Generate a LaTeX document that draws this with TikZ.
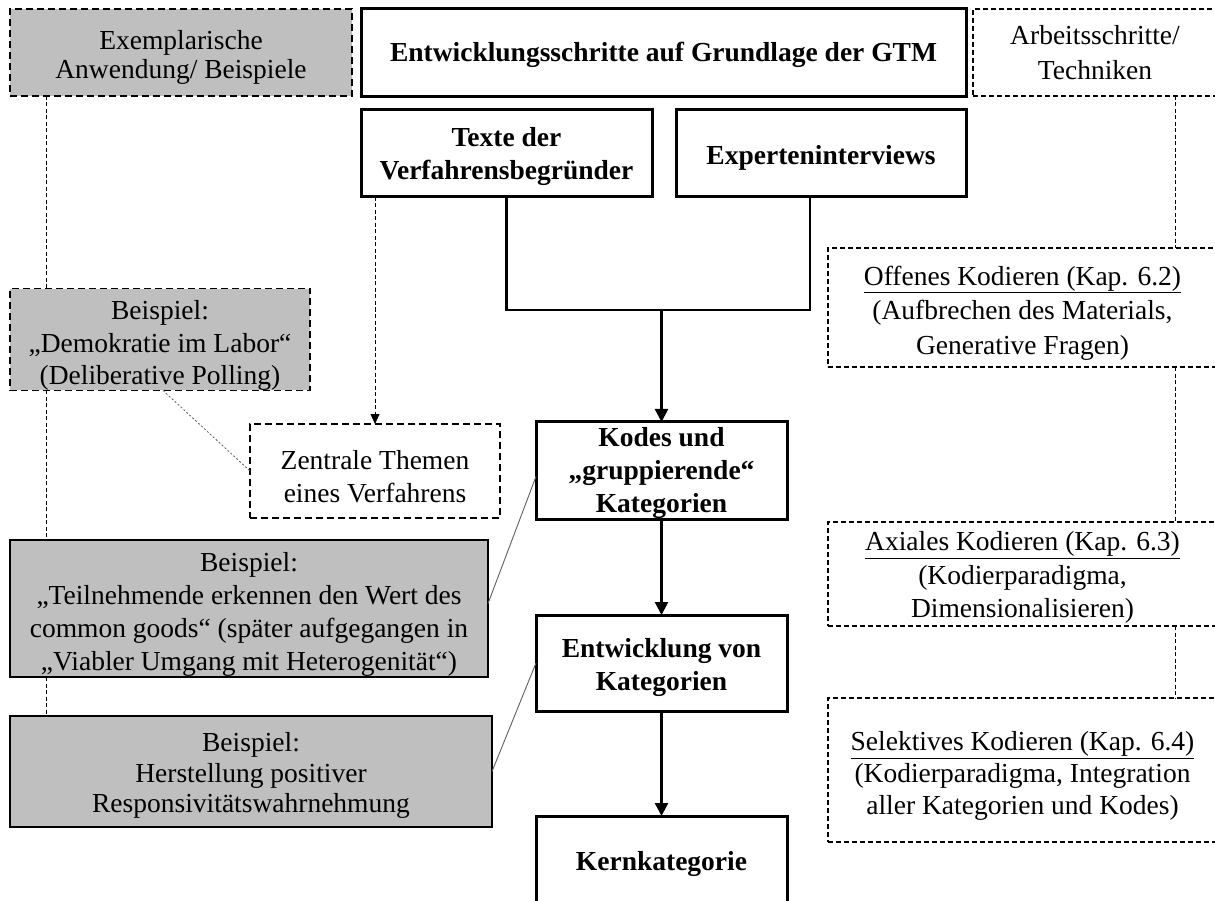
\documentclass[tikz,border=0pt]{standalone}
\usepackage{fontspec}
\setmainfont{Liberation Serif}
\usetikzlibrary{arrows.meta,calc}
\definecolor{boxgray}{RGB}{191,191,191}
\definecolor{linkgray}{RGB}{95,95,95}
% invisible strut that lowers a text block inside its box
\newcommand{\txtdrop}[1]{\rule{0pt}{#1pt}}
\begin{document}
\begin{tikzpicture}[x=1pt,y=-1pt,
  txt/.style={align=center,inner sep=0pt,outer sep=0pt,font=\fontsize{27.5}{33}\selectfont},
  stepbox/.style={txt,draw,line width=3pt,font=\bfseries\fontsize{27.5}{33}\selectfont},
  example/.style={txt,draw,fill=boxgray,line width=1.5pt},
  exampledash/.style={example,dash pattern=on 7pt off 4pt,line width=1.8pt},
  notebox/.style={txt,draw,dash pattern=on 7pt off 4pt,line width=1.8pt},
  techbox/.style={txt,draw,dash pattern=on 5pt off 3pt,line width=1.4pt,font=\fontsize{27.5}{33.5}\selectfont},
  guide/.style={line width=0.8pt,dash pattern=on 4pt off 2.5pt},
  flow/.style={line width=2.8pt},
  flowarrow/.style={line width=2.5pt,-{Triangle[length=13pt,width=13pt]}},
  link/.style={line width=0.9pt,draw=linkgray},
]
\clip (0,0) rectangle (1215,901);
\fill[white] (0,0) rectangle (1215,901);

% left column: examples
\node[exampledash,minimum width=342,minimum height=87,font=\fontsize{27.5}{29.5}\selectfont] (ex) at (181,52.5) {\txtdrop{29}Exemplarische\\Anwendung/ Beispiele};
\node[exampledash,minimum width=300,minimum height=99,font=\fontsize{27.5}{32.5}\selectfont] (b1) at (160,339.5) {\txtdrop{31}Beispiel:\\„Demokratie im Labor“\\(Deliberative Polling)};
\node[notebox,minimum width=250,minimum height=94] (zen) at (375,471) {\txtdrop{31}Zentrale Themen\\eines Verfahrens};
\node[example,minimum width=478,minimum height=137,font=\fontsize{27.5}{32.7}\selectfont] (b2) at (249,608.5) {\txtdrop{31}Beispiel:\\„Teilnehmende erkennen den Wert des\\common goods“ (später aufgegangen in\\„Viabler Umgang mit Heterogenität“)};
\node[example,minimum width=482,minimum height=111,font=\fontsize{27.5}{30.5}\selectfont] (b3) at (251,771.5) {\txtdrop{27}Beispiel:\\Herstellung positiver\\Responsivitätswahrnehmung};

% centre column: development steps
\node[stepbox,minimum width=605,minimum height=88] (gtm) at (663.5,53) {\txtdrop{24}Entwicklungsschritte auf Grundlage der GTM};
\node[stepbox,minimum width=291,minimum height=87] (texte) at (506.5,153.5) {\txtdrop{26}Texte der\\Verfahrensbegründer};
\node[stepbox,minimum width=290,minimum height=87] (exp) at (821,153.5) {\txtdrop{28}Experteninterviews};
\node[stepbox,minimum width=251,minimum height=95] (kodes) at (661.5,470.5) {\txtdrop{25}Kodes und\\„gruppierende“\\Kategorien};
\node[stepbox,minimum width=251,minimum height=96] (entw) at (661.5,663) {\txtdrop{28}Entwicklung von\\Kategorien};
\node[stepbox,minimum width=251,minimum height=96] (kern) at (661.5,864) {Kernkategorie};

% right column: working steps
\node[techbox,minimum width=244,minimum height=87,font=\fontsize{27.5}{35}\selectfont] (arb) at (1095,52.5) {Arbeitsschritte/\\Techniken};
\node[techbox,minimum width=389,minimum height=119,font=\fontsize{27.5}{34.5}\selectfont] (off) at (1022.5,307.5) {\txtdrop{30}\underline{Offenes Kodieren (Kap. 6.2)}\\(Aufbrechen des Materials,\\Generative Fragen)};
\node[techbox,minimum width=389,minimum height=104] (ax) at (1022.5,574) {\txtdrop{26}\underline{Axiales Kodieren (Kap. 6.3)}\\(Kodierparadigma,\\Dimensionalisieren)};
\node[techbox,minimum width=389,minimum height=144,font=\fontsize{27.5}{32}\selectfont] (sel) at (1022.5,770) {\txtdrop{31}\underline{Selektives Kodieren (Kap. 6.4)}\\(Kodierparadigma, Integration\\aller Kategorien und Kodes)};

% guide lines along the side columns
\coordinate (gx) at ($(ex.south west)+(36,0)$);
\draw[guide] (gx) -- (gx |- b1.north);
\draw[guide] (gx |- b1.south) -- (gx |- b2.north);
\draw[guide] (gx |- b2.south) -- (gx |- b3.north);
\coordinate (tx) at ($(arb.south west)+(202,0)$);
\draw[guide] (tx) -- (tx |- off.north);
\draw[guide] (tx |- off.south) -- (tx |- ax.north);
\draw[guide] (tx |- ax.south) -- (tx |- sel.north);

% sources to central themes
\draw[guide,-{Triangle[length=10pt,width=9pt]}] (texte.south -| zen.north) -- (zen.north);
\draw[guide,dash pattern=on 2pt off 2pt,draw=linkgray] ($(b1.south)+(3,0)$) -- (zen.west);

% main flow
\coordinate (mjy) at (0,310);
\coordinate (mj) at (kodes.north |- mjy);
\coordinate (ej) at ($(exp.south)+(-11,0)$);
\draw[flow] (texte.south) |- (mj) -| (ej);
\draw[flowarrow] (mj) -- (kodes.north);
\draw[flowarrow] (kodes.south) -- (entw.north);
\draw[flowarrow] (entw.south) -- (kern.north);

% examples attached to steps
\draw[link] ($(b2.east)+(0,-5)$) -- ($(kodes.west)+(0,6)$);
\draw[link] (b3.east) -- (entw.west);
\end{tikzpicture}
\end{document}
